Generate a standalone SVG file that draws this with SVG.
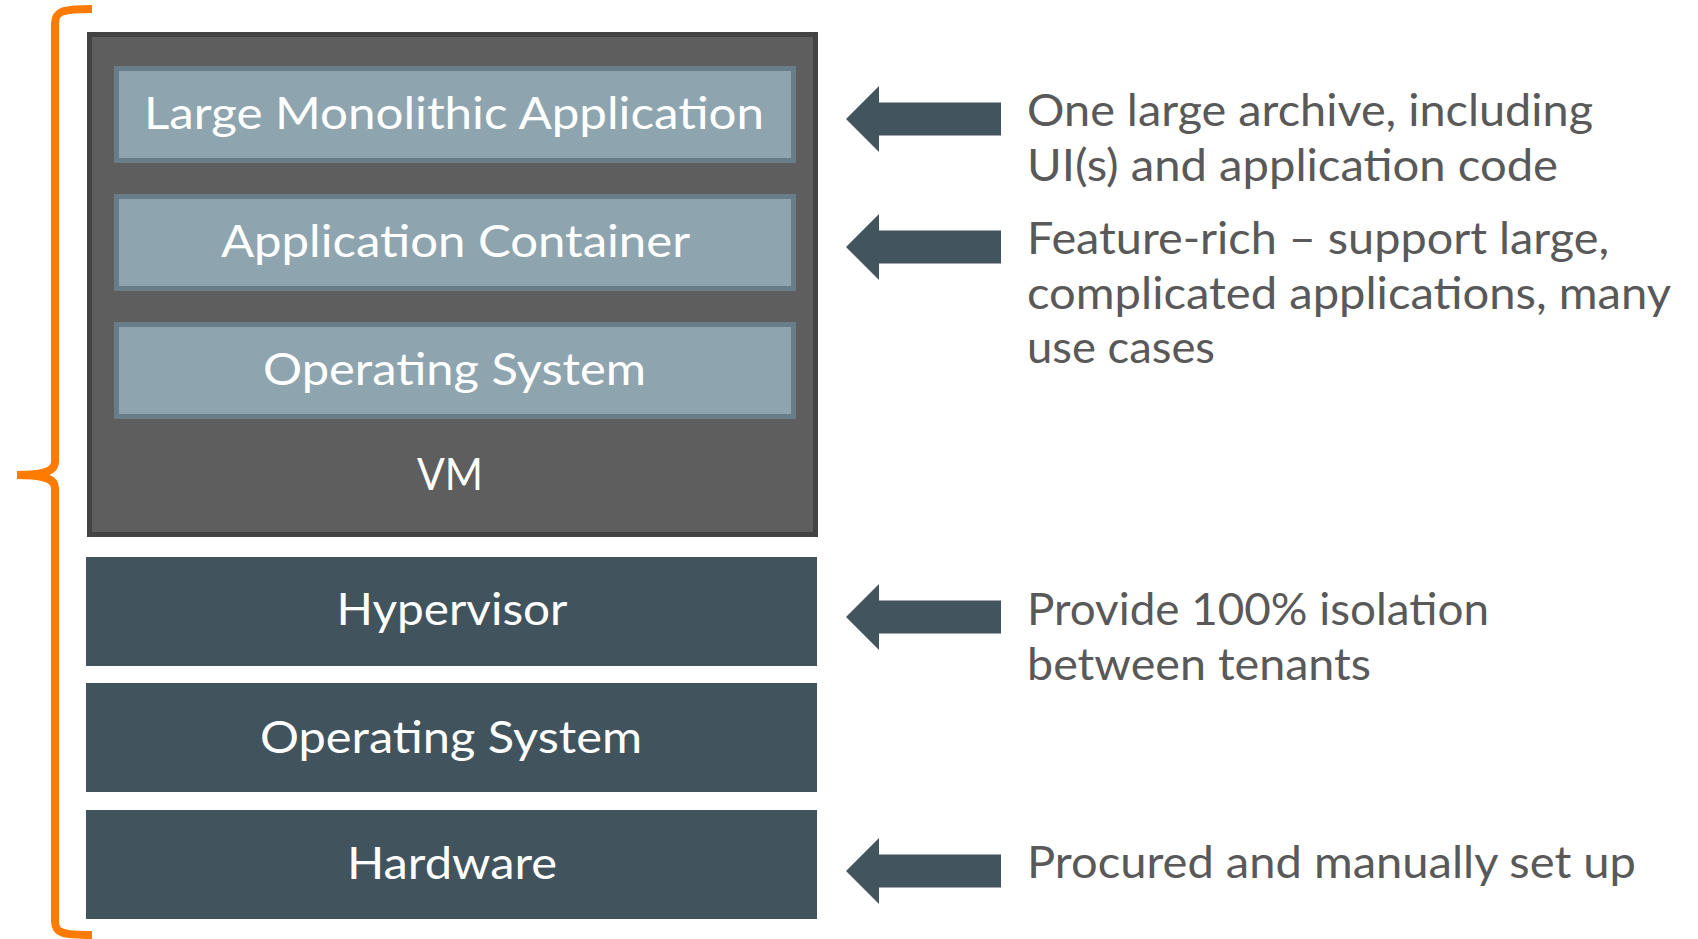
<svg xmlns="http://www.w3.org/2000/svg" xmlns:xlink="http://www.w3.org/1999/xlink" width="1698" height="939" viewBox="0 0 1698 939">
  <style>
    .lbl { font-family: Lato, "Open Sans", "Liberation Sans", sans-serif; font-size: 45px; fill: #FFFFFF; text-anchor: middle; }
    .note { font-family: Lato, "Open Sans", "Liberation Sans", sans-serif; font-size: 45px; fill: #595959; }
    .vm { fill: #5E5E5E; stroke: #434343; stroke-width: 5; }
    .inner { fill: #8EA5B0; stroke: #677D87; stroke-width: 5; }
    .layer { fill: #41545E; }
    .brace { fill: none; stroke: #FF7B00; stroke-width: 8; }
  </style>
  <defs>
    <!-- left-pointing block arrow, tip at origin -->
    <polygon id="arrowL" points="0,0 33,-33 33,-16.5 155,-16.5 155,16.5 33,16.5 33,33" fill="#42545E"/>
  </defs>

  <rect width="1698" height="939" fill="#FFFFFF"/>

  <!-- curly brace spanning the full stack -->
  <g id="brace">
    <path class="brace" d="M 92 9 C 62 9 55 11 55 24 L 55 462 C 55 471 45 475 17 475 C 45 475 55 479 55 488 L 55 921 C 55 933 62 935 92 935"/>
  </g>

  <!-- virtual machine -->
  <g id="vm">
    <rect class="vm" x="89.5" y="34.5" width="726" height="500"/>
    <text class="lbl" x="450" y="490" textLength="66" lengthAdjust="spacingAndGlyphs">VM</text>
  </g>

  <g id="app">
    <rect class="inner" x="116.5" y="68.5" width="677" height="92"/>
    <text class="lbl" x="454" y="129" textLength="620" lengthAdjust="spacingAndGlyphs">Large Monolithic Application</text>
  </g>

  <g id="container">
    <rect class="inner" x="116.5" y="196.5" width="677" height="92"/>
    <text class="lbl" x="455.5" y="257" textLength="469" lengthAdjust="spacingAndGlyphs">Application Container</text>
  </g>

  <g id="guest-os">
    <rect class="inner" x="116.5" y="324.5" width="677" height="92"/>
    <text class="lbl" x="454.5" y="385" textLength="383" lengthAdjust="spacingAndGlyphs">Operating System</text>
  </g>

  <!-- host layers -->
  <g id="hypervisor">
    <rect class="layer" x="86" y="557" width="731" height="109"/>
    <text class="lbl" x="452" y="625" textLength="231" lengthAdjust="spacingAndGlyphs">Hypervisor</text>
  </g>

  <g id="host-os">
    <rect class="layer" x="86" y="683" width="731" height="109"/>
    <text class="lbl" x="451" y="753" textLength="382" lengthAdjust="spacingAndGlyphs">Operating System</text>
  </g>

  <g id="hardware">
    <rect class="layer" x="86" y="810" width="731" height="109"/>
    <text class="lbl" x="452" y="879" textLength="210" lengthAdjust="spacingAndGlyphs">Hardware</text>
  </g>

  <!-- pointer arrows -->
  <g id="connectors">
    <use xlink:href="#arrowL" href="#arrowL" x="846" y="119"/>
    <use xlink:href="#arrowL" href="#arrowL" x="846" y="247"/>
    <use xlink:href="#arrowL" href="#arrowL" x="846" y="617"/>
    <use xlink:href="#arrowL" href="#arrowL" x="846" y="871"/>
  </g>

  <!-- annotations -->
  <g id="note-app">
    <text class="note" x="1027" y="126" textLength="566" lengthAdjust="spacingAndGlyphs">One large archive, including</text>
    <text class="note" x="1027" y="181" textLength="531" lengthAdjust="spacingAndGlyphs">UI(s) and application code</text>
  </g>
  <g id="note-container">
    <text class="note" x="1027" y="254" textLength="582" lengthAdjust="spacingAndGlyphs">Feature-rich – support large,</text>
    <text class="note" x="1027" y="309" textLength="644" lengthAdjust="spacingAndGlyphs">complicated applications, many</text>
    <text class="note" x="1027" y="363" textLength="188" lengthAdjust="spacingAndGlyphs">use cases</text>
  </g>
  <g id="note-hypervisor">
    <text class="note" x="1027" y="625" textLength="462" lengthAdjust="spacingAndGlyphs">Provide 100% isolation</text>
    <text class="note" x="1027" y="680" textLength="344" lengthAdjust="spacingAndGlyphs">between tenants</text>
  </g>
  <g id="note-hardware">
    <text class="note" x="1027" y="878" textLength="609" lengthAdjust="spacingAndGlyphs">Procured and manually set up</text>
  </g>
</svg>
